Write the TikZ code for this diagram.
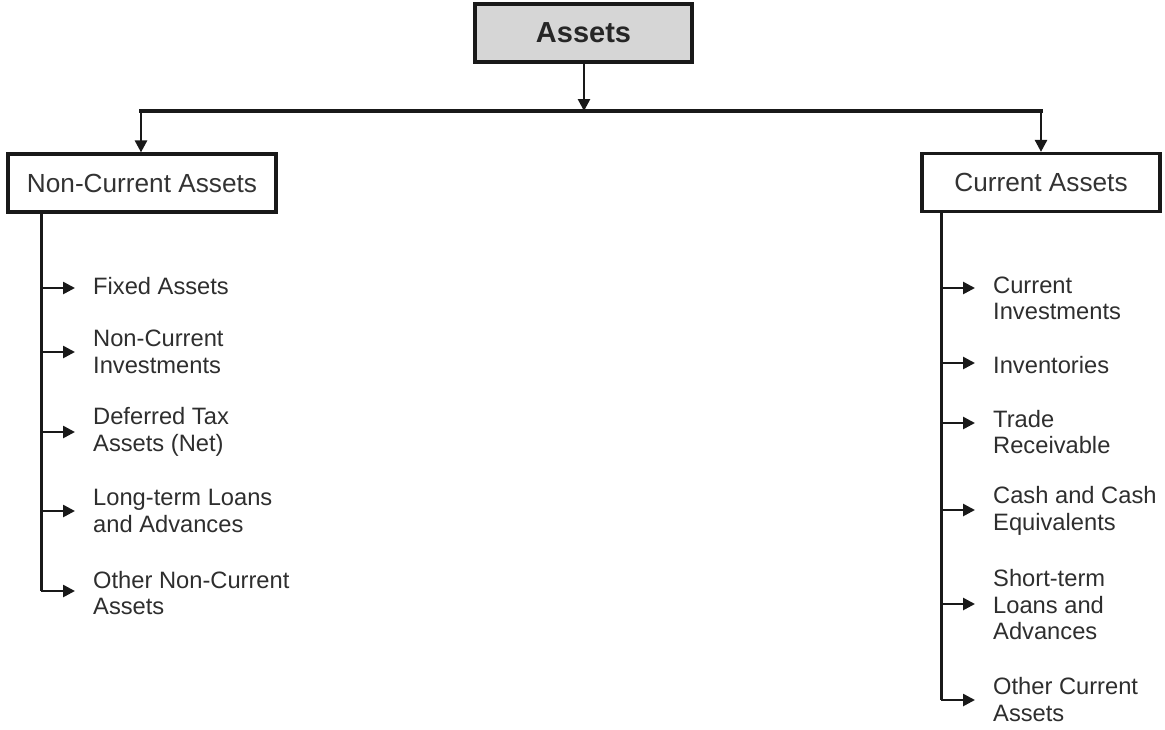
\documentclass[tikz,border=0pt]{standalone}
\usepackage{fontspec}
\setmainfont{Liberation Sans}
\usetikzlibrary{arrows.meta}
\begin{document}
\begin{tikzpicture}[x=1pt,y=1pt,
  topbox/.style={draw=black!90, line width=3.2pt, fill=black!16, minimum width=217pt, minimum height=58pt, inner sep=0pt, font=\fontsize{29}{31}\selectfont\bfseries, text=black!85},
  catbox/.style={draw=black!90, line width=3.2pt, fill=white, minimum height=58pt, inner sep=0pt, font=\fontsize{26.2}{29}\selectfont, text=black!80},
  item/.style={anchor=west, align=left, inner sep=0pt, font=\fontsize{23.7}{26.5}\selectfont, text=black!82},
  conn/.style={draw=black!90, line width=3.2pt},
  spine/.style={draw=black!90, line width=3pt},
  arr/.style={draw=black!90, line width=2.6pt, -{Triangle[length=12pt,width=12pt]}},
  darr/.style={draw=black!90, line width=2.6pt, -{Triangle[length=12pt,width=12pt]}}
]
\useasboundingbox (0,0) rectangle (1165,-729);

% boxes
\node[topbox] (assets) at (583.5,-33) {Assets};
\node[catbox, minimum width=268pt] (nca) at (142,-183) {Non-Current Assets};
\node[catbox, minimum width=238pt] (ca) at (1041,-182.5) {Current Assets};

% bus
\coordinate (bus) at (584,-111);
\coordinate (busL) at (141,-111);
\coordinate (busR) at (1041,-111);
\draw[darr] (assets.south -| bus) -- (bus);
\draw[conn, line cap=rect] (busL) -- (busR);
\draw[darr] (busL) -- (busL |- nca.north);
\draw[darr] (busR) -- (busR |- ca.north);

% left column
\node[item] (l1) at (93,-286) {Fixed Assets};
\node[item] (l2) at (93,-352) {Non-Current\\Investments};
\node[item] (l3) at (93,-432) {Deferred Tax\\Assets (Net)};
\node[item] (l4) at (93,-511) {Long-term Loans\\and Advances};
\node[item] (l5) at (93,-593) {Other Non-Current\\Assets};

\coordinate (spL) at (41,-212);
\coordinate (tL1) at (75,-288);
\coordinate (tL2) at (75,-352);
\coordinate (tL3) at (75,-432);
\coordinate (tL4) at (75,-511);
\coordinate (tL5) at (75,-591);
\draw[spine] (spL) -- (spL |- tL5);
\foreach \i in {1,...,5}{
  \draw[arr] (spL |- tL\i) -- (tL\i);
}

% right column
\node[item] (r1) at (993,-298.5) {Current\\Investments};
\node[item] (r2) at (993,-365) {Inventories};
\node[item] (r3) at (993,-432) {Trade\\Receivable};
\node[item] (r4) at (993,-511) {Cash and Cash\\Equivalents};
\node[item] (r5) at (993,-605) {Short-term\\Loans and\\Advances};
\node[item] (r6) at (993,-699.5) {Other Current\\Assets};

\coordinate (spR) at (941,-211);
\coordinate (tR1) at (975,-288);
\coordinate (tR2) at (975,-363);
\coordinate (tR3) at (975,-423);
\coordinate (tR4) at (975,-510);
\coordinate (tR5) at (975,-604);
\coordinate (tR6) at (975,-700);
\draw[spine] (spR) -- (spR |- tR6);
\foreach \i in {1,...,6}{
  \draw[arr] (spR |- tR\i) -- (tR\i);
}
\end{tikzpicture}
\end{document}
